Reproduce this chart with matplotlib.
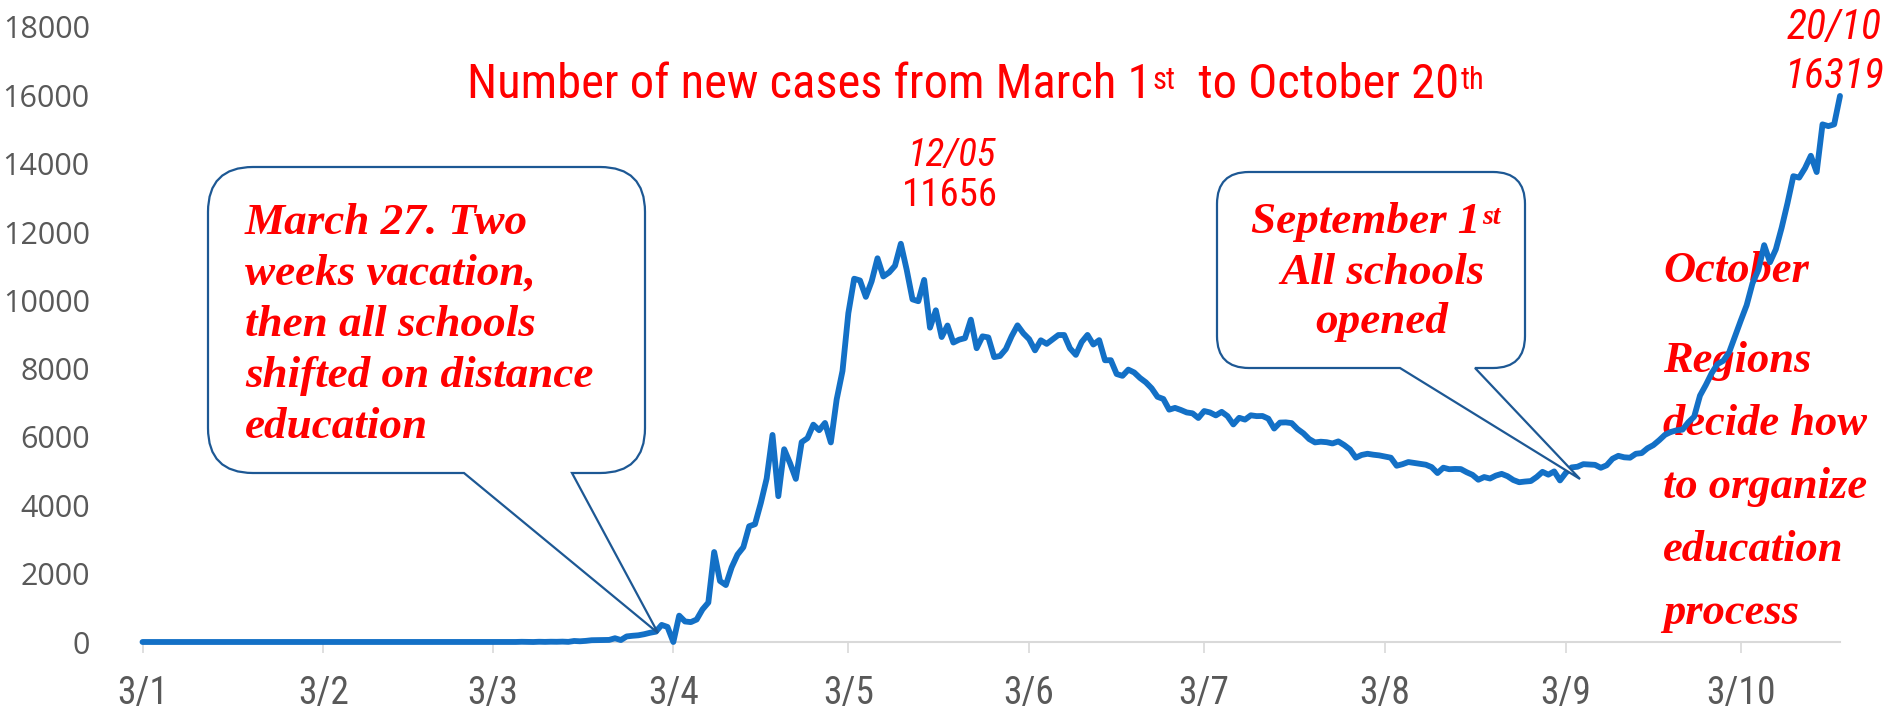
import datetime as dt

import matplotlib
matplotlib.use("Agg")
import matplotlib.pyplot as plt
from matplotlib import font_manager as fm
from matplotlib.path import Path
from matplotlib.patches import PathPatch

W, H = 1893, 713

# daily new cases, Jan 3 .. Oct 20
START = dt.date(2020, 1, 3)
jan_cases = [0, 0, 0, 0, 0, 0, 0, 0, 0, 0, 0, 0, 0, 0, 0, 0, 0, 0, 0, 0,
             0, 0, 0, 0, 0, 0, 0, 0, 0]
feb_cases = [2, 0, 0, 0, 0, 0, 0, 0, 0, 0, 0, 0, 0, 0, 0, 0, 0, 0, 0, 0,
             0, 0, 0, 0, 0, 0, 0, 0, 0]
mar_cases = [0, 1, 0, 0, 0, 1, 1, 6, 3, 0, 7, 3, 8, 6, 11, 4, 30, 21, 33, 52,
             54, 53, 61, 110, 57, 163, 182, 196, 228, 270, 302]
apr_cases = [500, 440, 0, 771, 601, 582, 658, 954, 1154, 2634, 1786, 1667,
             2186, 2558, 2774, 3388, 3448, 4070, 4785, 6060, 4268, 5642, 5236,
             4774, 5849, 5966, 6361, 6198, 6411, 5841]
may_cases = [7099, 7933, 9623, 10633, 10581, 10102, 10559, 11231, 10699, 10817,
             11012, 11656, 10899, 10028, 9974, 10598, 9200, 9709, 8926, 9263,
             8764, 8849, 8894, 9434, 8599, 8946, 8915, 8338, 8371, 8572, 8952]
jun_cases = [9268, 9035, 8863, 8536, 8831, 8726, 8855, 8984, 8985, 8595, 8404,
             8779, 8987, 8706, 8835, 8246, 8248, 7843, 7790, 7972, 7889, 7728,
             7600, 7425, 7176, 7113, 6800, 6852, 6791, 6719]
jul_cases = [6693, 6556, 6760, 6718, 6632, 6736, 6611, 6368, 6562, 6509, 6635,
             6611, 6615, 6537, 6248, 6422, 6428, 6406, 6234, 6109, 5940, 5842,
             5862, 5848, 5811, 5871, 5765, 5635, 5395, 5475, 5509]
aug_cases = [5482, 5462, 5427, 5394, 5159, 5204, 5267, 5241, 5212, 5189, 5118,
             4945, 5102, 5057, 5065, 5061, 4969, 4892, 4748, 4828, 4785, 4870,
             4921, 4852, 4741, 4676, 4696, 4711, 4829, 4980, 4897]
sep_cases = [4993, 4729, 4952, 5110, 5130, 5205, 5195, 5185, 5099, 5172, 5363,
             5449, 5406, 5394, 5509, 5529, 5670, 5762, 5905, 6065, 6148, 6196,
             6215, 6431, 6595, 7212, 7523, 7867, 8135, 8232]
oct_cases = [8481, 8945, 9412, 9859, 10499, 10888, 11615, 11115, 11493, 12126,
             12846, 13634, 13592, 13868, 14231, 13754, 15150, 15099, 15150, 15982]

cases = (jan_cases + feb_cases + mar_cases + apr_cases + may_cases + jun_cases
         + jul_cases + aug_cases + sep_cases + oct_cases)
dates = [START + dt.timedelta(days=i) for i in range(len(cases))]

tick_dates = [dt.date(2020, m, 3) for m in range(1, 11)]
tick_labels = ["3/1", "3/2", "3/3", "3/4", "3/5", "3/6", "3/7", "3/8", "3/9", "3/10"]
y_ticks = [0, 2000, 4000, 6000, 8000, 10000, 12000, 14000, 16000, 18000]

C_LINE = "#1370c6"
C_RED = "#ff0000"
C_BOX = "#1d5894"
C_TICK = "#595959"
C_AXIS = "#d9d9d9"

names = {f.name for f in fm.fontManager.ttflist}
COND = next((n for n in ["Roboto Condensed", "Liberation Sans Narrow", "DejaVu Sans"]
             if n in names), "DejaVu Sans")
SANS = "Open Sans" if "Open Sans" in names else "DejaVu Sans"
SERIF = "Liberation Serif" if "Liberation Serif" in names else "DejaVu Serif"


def fx(x):
    return x / W


def fy(y):
    return 1 - y / H


fig = plt.figure(figsize=(W / 100, H / 100), dpi=100)
ax = fig.add_axes([fx(142.5), fy(642), (1840 - 142.5) / W, (642 - 27) / H])

ax.plot(dates, cases, color=C_LINE, linewidth=4.2, solid_joinstyle="round",
        solid_capstyle="round", zorder=3, clip_on=False)
ax.set_xlim(dt.date(2020, 1, 3), dt.date(2020, 10, 20))
ax.set_ylim(0, 18000)
ax.set_xticks(tick_dates)
ax.set_xticklabels(tick_labels, fontfamily=COND, fontsize=27, color=C_TICK)
ax.set_yticks(y_ticks)
ax.set_yticklabels([str(v) for v in y_ticks], fontfamily=SANS, fontsize=22, color=C_TICK)
ax.tick_params(axis="x", length=8, width=1.2, color=C_AXIS, pad=16)
ax.tick_params(axis="y", length=0, pad=38)
for s in ("top", "right", "left"):
    ax.spines[s].set_visible(False)
ax.spines["bottom"].set_color(C_AXIS)
ax.spines["bottom"].set_linewidth(1.5)
ax.patch.set_alpha(0)


def callout(x0, y0, x1, y1, r, ta, tb, tip):
    pts = [(x0 + r, y0), (x1 - r, y0), (x1, y0), (x1, y0 + r), (x1, y1 - r),
           (x1, y1), (x1 - r, y1), (tb, y1), tip, (ta, y1), (x0 + r, y1),
           (x0, y1), (x0, y1 - r), (x0, y0 + r), (x0, y0), (x0 + r, y0), (0, 0)]
    codes = [Path.MOVETO, Path.LINETO, Path.CURVE3, Path.CURVE3, Path.LINETO,
             Path.CURVE3, Path.CURVE3, Path.LINETO, Path.LINETO, Path.LINETO,
             Path.LINETO, Path.CURVE3, Path.CURVE3, Path.LINETO, Path.CURVE3,
             Path.CURVE3, Path.CLOSEPOLY]
    path = Path([(fx(x), fy(y)) for x, y in pts], codes)
    patch = PathPatch(path, facecolor="white", edgecolor=C_BOX, linewidth=1.6,
                      transform=fig.transFigure, zorder=5)
    fig.add_artist(patch)


callout(208, 167, 645, 473, 45, 464, 572, (658, 633))
callout(1217, 172, 1525, 368, 32, 1400, 1475, (1580, 479))

box_font = dict(family=SERIF, style="italic", weight="bold", color=C_RED,
                fontsize=32.5, zorder=6)
march_lines = ["March 27. Two", "weeks vacation,", "then all schools",
               "shifted on distance", "education"]
for i, line in enumerate(march_lines):
    fig.text(fx(245), fy(234 + 51 * i), line, va="baseline", ha="left", **box_font)

# September box
t = fig.text(fx(1366), fy(233), "September 1", va="baseline", ha="center", **box_font)
fig.add_artist(plt.Annotation("st", xy=(1, 1), xycoords=t, va="top", ha="left",
                              xytext=(1, -2), textcoords="offset points",
                              family=SERIF, style="italic", weight="bold",
                              color=C_RED, fontsize=20, zorder=6))
fig.text(fx(1382), fy(284), "All schools", va="baseline", ha="center", **box_font)
fig.text(fx(1382), fy(333), "opened", va="baseline", ha="center", **box_font)

# right side note (drawn under the line)
right_lines = [("October", 282), ("Regions", 372), ("decide how", 435),
               ("to organize", 498), ("education", 561), ("process", 624)]
for line, yb in right_lines:
    ax.text(fx(1663), fy(yb), line, transform=fig.transFigure, va="baseline",
            ha="left", family=SERIF, style="italic", weight="bold",
            color=C_RED, fontsize=32, zorder=1)

# title with superscripts
tf = dict(family=COND, color=C_RED)
t1 = fig.text(fx(467), fy(108), "Number of new cases from March 1", va="bottom",
              ha="left", fontsize=35, **tf)
t2 = fig.add_artist(plt.Annotation("st", xy=(1, 1), xycoords=t1, va="top", ha="left",
                                   xytext=(1, -3), textcoords="offset points",
                                   fontsize=22, **tf))
t3 = fig.add_artist(plt.Annotation("  to October 20", xy=(1, 0), xycoords=(t2, t1),
                                   va="bottom", ha="left", fontsize=35, **tf))
fig.add_artist(plt.Annotation("th", xy=(1, 1), xycoords=t3, va="top", ha="left",
                              xytext=(1, -3), textcoords="offset points",
                              fontsize=22, **tf))

# value labels
fig.text(fx(952), fy(155), "12/05", ha="center", va="center", style="italic",
         fontsize=28, **tf)
fig.text(fx(950), fy(196), "11656", ha="center", va="center", fontsize=28, **tf)
fig.text(fx(1834), fy(28), "20/10", ha="center", va="center", style="italic",
         fontsize=30, **tf)
fig.text(fx(1834), fy(77), "16319", ha="center", va="center", style="italic",
         fontsize=30, **tf)

fig.savefig("out.png", dpi=100, facecolor="white")
